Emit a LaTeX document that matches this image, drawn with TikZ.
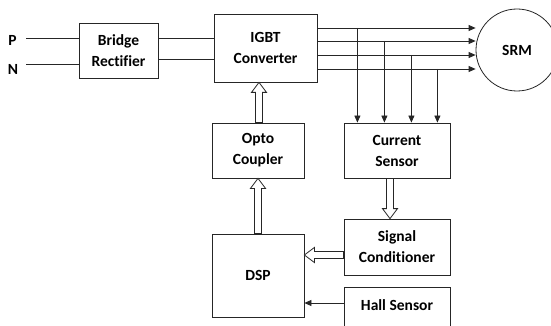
\documentclass[tikz,border=0pt]{standalone}
\usepackage{fontspec}
\setmainfont[Ligatures=NoCommon]{Carlito}
\usetikzlibrary{arrows.meta,calc}
\newcommand\hollowarrow[2]{%
  \coordinate (ha-b) at ($(#2)!10pt!(#1)$);
  \draw[harr] ($(#1)!3.5pt!90:(#2)$) -- ($(ha-b)!3.5pt!90:(#2)$) -- ($(ha-b)!7.5pt!90:(#2)$) -- (#2)
    -- ($(ha-b)!7.5pt!-90:(#2)$) -- ($(ha-b)!3.5pt!-90:(#2)$) -- ($(#1)!3.5pt!-90:(#2)$) -- cycle;}
\begin{document}
\begin{tikzpicture}[x=1pt,y=-1pt,
  box/.style={draw=black!85, line width=0.8pt, font=\bfseries\fontsize{15.5}{21}\selectfont, align=center, inner sep=0pt},
  lab/.style={font=\bfseries\fontsize{15.5}{21}\selectfont, inner sep=0pt},
  ln/.style={draw=black!85, line width=0.8pt},
  arr/.style={ln, -{Triangle[length=7pt,width=6pt]}},
  harr/.style={draw=black!85, line width=0.8pt, fill=white}]
\useasboundingbox (0,0) rectangle (551,326);
\node[box, minimum width=79pt, minimum height=55pt] (rect) at (118.5,50.5) {Bridge\\Rectifier};
\node[box, minimum width=103pt, minimum height=68pt] (igbt) at (265.5,48) {IGBT\\Converter};
\node[box, minimum width=92pt, minimum height=55pt] (opto) at (258,150.5) {Opto\\Coupler};
\node[box, minimum width=106pt, minimum height=55pt] (cur) at (397,150.5) {Current\\Sensor};
\node[box, minimum width=106pt, minimum height=56pt] (sig) at (397,247) {Signal\\Conditioner};
\node[box, minimum width=92pt, minimum height=83pt] (dsp) at (258,275.5) {DSP};
\node[box, minimum width=106pt, minimum height=43pt] (hall) at (397,308.5) {\raisebox{6pt}{Hall Sensor}};
\node[box, circle, minimum size=82pt] (srm) at (517,50) {SRM};
\node[lab] (plab) at (12.5,40) {P};
\node[lab] (nlab) at (13,69) {N};
% inputs
\coordinate (pin) at (26,38);
\coordinate (nin) at (26,64);
\draw[ln] (pin) -- (pin -| rect.west);
\draw[ln] (nin) -- (nin -| rect.west);
\coordinate (r1) at ([yshift=12.5pt]rect.east);
\coordinate (r2) at ([yshift=-8.5pt]rect.east);
\draw[ln] (r1) -- (r1 -| igbt.west);
\draw[ln] (r2) -- (r2 -| igbt.west);
% outputs
\coordinate (o1) at ([yshift=20pt]igbt.east);
\coordinate (o2) at ([yshift=7pt]igbt.east);
\coordinate (o3) at ([yshift=-7pt]igbt.east);
\coordinate (o4) at ([yshift=-21pt]igbt.east);
\foreach \o in {o1,o2,o3,o4} \draw[arr] (\o) -- (\o -| srm.west);
\coordinate (t1) at ($(o1)+(40,0)$);
\coordinate (t2) at ($(o2)+(67,0)$);
\coordinate (t3) at ($(o3)+(94,0)$);
\coordinate (t4) at ($(o4)+(120,0)$);
\foreach \t in {t1,t2,t3,t4} \draw[arr] (\t) -- (\t |- cur.north);
% hollow arrows
\coordinate (a1s) at ([xshift=1pt]opto.north);
\coordinate (a1e) at (a1s |- igbt.south);
\hollowarrow{a1s}{a1e}
\coordinate (a2s) at (dsp.north);
\coordinate (a2e) at (a2s |- opto.south);
\hollowarrow{a2s}{a2e}
\coordinate (a3s) at ([xshift=-7pt]cur.south);
\coordinate (a3e) at (a3s |- sig.north);
\hollowarrow{a3s}{a3e}
\coordinate (a4s) at ([yshift=-8pt]sig.west);
\coordinate (a4e) at (a4s -| dsp.east);
\hollowarrow{a4s}{a4e}
% hall arrow
\coordinate (hs) at ([yshift=5.5pt]hall.west);
\draw[arr] (hs) -- (hs -| dsp.east);
\end{tikzpicture}
\end{document}
